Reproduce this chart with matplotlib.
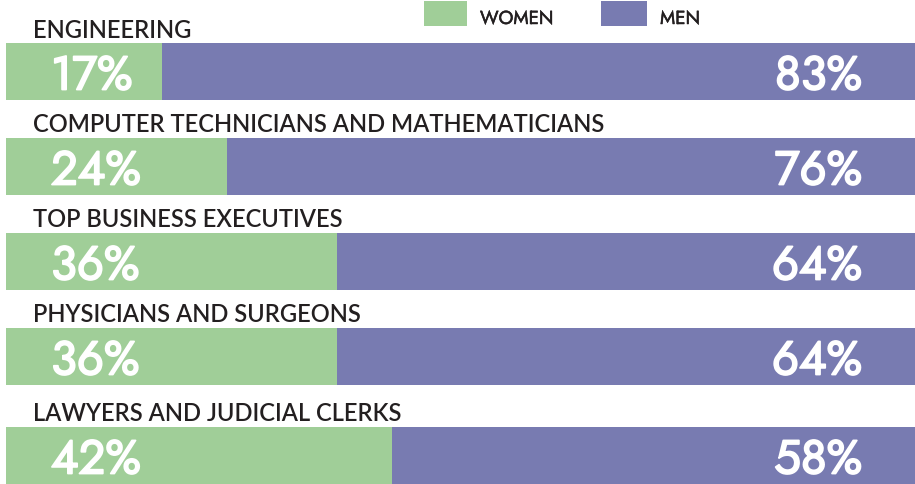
import matplotlib
matplotlib.use("Agg")
import matplotlib.pyplot as plt
import matplotlib.patheffects as pe
from matplotlib.patches import Rectangle

categories = ["ENGINEERING", "COMPUTER TECHNICIANS AND MATHEMATICIANS",
              "TOP BUSINESS EXECUTIVES", "PHYSICIANS AND SURGEONS",
              "LAWYERS AND JUDICIAL CLERKS"]
women = [17, 24, 36, 36, 42]
men = [83, 76, 64, 64, 58]
series_names = ["WOMEN", "MEN"]

GREEN = "#A0CE98"
PURPLE = "#787BB1"
DARK = "#231F20"
GEO = ["Jost", "League Spartan", "IBM Plex Sans Condensed", "Lato"]

W, H = 915, 485
fig = plt.figure(figsize=(W / 100, H / 100), dpi=100)
ax = fig.add_axes([0, 0, 1, 1])
# layout: pixel scale, 9.2 px per percent, bars start at x=6 px
scale = 9.2
x0 = 6
ax.set_xlim(-x0 / scale, (W - x0) / scale)
ax.set_ylim(H, 0)
ax.axis("off")

bar_tops = [44, 139, 234, 329, 428]
bar_h = 57
centers = [t + bar_h / 2 for t in bar_tops]

ax.barh(centers, women, height=bar_h, left=0, color=GREEN, linewidth=0)
ax.barh(centers, men, height=bar_h, left=women, color=PURPLE, linewidth=0)

def px(x):
    return (x - x0) / scale

bold_white = [pe.Stroke(linewidth=1.3, foreground="white"), pe.Normal()]
bold_dark = [pe.Stroke(linewidth=0.35, foreground=DARK), pe.Normal()]

for cat, w, m, top in zip(categories, women, men, bar_tops):
    ax.text(px(33), top - 6.5, cat, ha="left", va="baseline", fontsize=17,
            family="Lato", fontweight="semibold", color=DARK)
    ax.text(px(51), top + 46.5, f"{w}%", ha="left", va="baseline", fontsize=34,
            family=GEO, fontweight="bold", color="white", path_effects=bold_white)
    ax.text(px(862), top + 46.5, f"{m}%", ha="right", va="baseline", fontsize=34,
            family=GEO, fontweight="bold", color="white", path_effects=bold_white)

# legend
for (sx, sw, tx), name, col in zip([(424, 43, 480), (601, 46, 660)], series_names, [GREEN, PURPLE]):
    fig.add_artist(Rectangle((sx / W, 1 - 27 / H), sw / W, 25 / H,
                             transform=fig.transFigure, color=col, linewidth=0))
    fig.text(tx / W, 1 - 25 / H, name, ha="left", va="baseline", fontsize=13.5,
             family=GEO, color=DARK, path_effects=bold_dark)

fig.savefig("out.png", dpi=100)
